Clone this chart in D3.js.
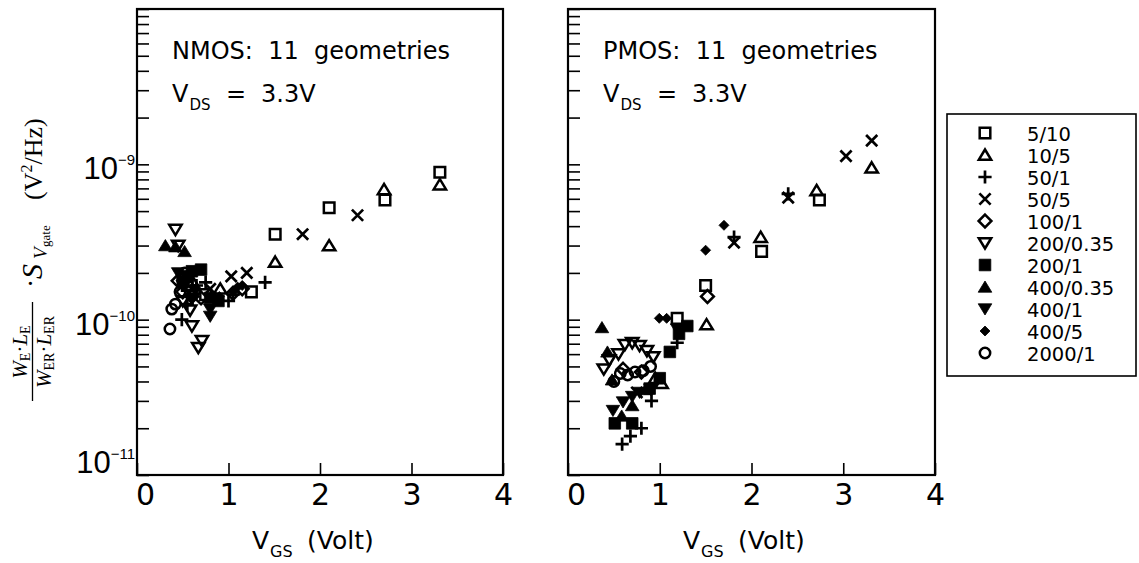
<!DOCTYPE html>
<html><head><meta charset="utf-8">
<script src="https://cdn.jsdelivr.net/npm/d3@7"></script>
<style>
html,body{margin:0;padding:0;background:#fff;}
svg{display:block;}
</style></head>
<body>
<svg id="chart" width="1139" height="563"></svg>
<script>
// ---------------- data ----------------
const geometries = ["5/10","10/5","50/1","50/5","100/1","200/0.35","200/1","400/0.35","400/1","400/5","2000/1"];
const markerTypes = ["square","triangle","plus","cross","diamond","invtri","square","triangle","invtri","diamond","circle"];
const markerFilled = [false,false,false,false,false,false,true,true,true,true,false];
const xTicks = [0,1,2,3,4];
const yLabelTicks = [1e-9,1e-10,1e-11];
const yLabelExp = ["\u22129","\u221210","\u221211"];

// NMOS: [VGS (V), normalised S_Vgate (V^2/Hz)]
const n_5_10   = [[0.55,1.66e-10],[0.75,1.45e-10],[1.25,1.51e-10],[1.51,3.55e-10],[2.10,5.25e-10],[2.71,5.9e-10],[3.31,8.9e-10]];
const n_10_5   = [[0.60,1.78e-10],[0.91,1.58e-10],[1.51,2.35e-10],[2.10,3.0e-10],[2.70,6.9e-10],[3.31,7.4e-10]];
const n_50_1   = [[0.49,1.0e-10],[0.55,1.26e-10],[0.65,1.66e-10],[0.75,1.74e-10],[1.0,1.32e-10],[1.05,1.45e-10],[1.40,1.74e-10]];
const n_50_5   = [[0.60,1.58e-10],[0.80,1.58e-10],[1.03,1.9e-10],[1.20,2.0e-10],[1.81,3.55e-10],[2.41,4.7e-10]];
const n_100_1  = [[0.45,1.78e-10],[0.50,1.51e-10],[0.60,1.41e-10],[0.70,1.38e-10],[1.05,1.48e-10],[1.15,1.58e-10]];
const n_200_035= [[0.42,3.8e-10],[0.45,3.0e-10],[0.50,1.32e-10],[0.58,1.15e-10],[0.60,9.1e-11],[0.71,7.3e-11],[0.67,6.6e-11]];
const n_200_1  = [[0.50,1.74e-10],[0.55,1.9e-10],[0.60,2.05e-10],[0.70,2.1e-10],[0.80,1.38e-10],[0.89,1.32e-10]];
const n_400_035= [[0.31,3.0e-10],[0.42,2.95e-10],[0.52,2.75e-10]];
const n_400_1  = [[0.45,2.0e-10],[0.50,1.66e-10],[0.60,1.38e-10],[0.80,1.17e-10],[0.80,1.05e-10]];
const n_400_5  = [[0.55,1.78e-10],[0.65,1.58e-10],[0.90,1.41e-10],[1.05,1.51e-10],[1.10,1.62e-10],[1.15,1.66e-10]];
const n_2000_1 = [[0.36,8.7e-11],[0.38,1.17e-10],[0.42,1.26e-10],[0.47,1.51e-10],[0.50,1.82e-10],[0.52,2.0e-10],[0.55,1.66e-10]];

// PMOS
const p_5_10   = [[1.19,1.02e-10],[1.50,1.66e-10],[2.11,2.75e-10],[2.74,5.9e-10]];
const p_10_5   = [[0.95,4.2e-11],[1.02,3.9e-11],[1.51,9.3e-11],[2.10,3.4e-10],[2.71,6.8e-10],[3.31,9.5e-10]];
const p_50_1   = [[0.59,1.58e-11],[0.68,1.78e-11],[0.80,2.0e-11],[0.91,3.0e-11],[1.19,7.1e-11],[1.81,3.4e-10],[2.40,6.45e-10]];
const p_50_5   = [[0.75,3.4e-11],[1.81,3.13e-10],[2.40,6.1e-10],[3.03,1.13e-9],[3.31,1.42e-9]];
const p_100_1  = [[0.60,4.8e-11],[0.80,4.6e-11],[1.52,1.41e-10]];
const p_200_035= [[0.39,4.8e-11],[0.45,5.5e-11],[0.55,6.0e-11],[0.62,6.9e-11],[0.70,7.1e-11],[0.78,6.8e-11],[0.86,6.3e-11],[0.93,5.75e-11]];
const p_200_1  = [[0.51,2.15e-11],[0.70,2.15e-11],[0.89,3.6e-11],[1.0,4.2e-11],[1.11,6.2e-11],[1.21,8.1e-11],[1.30,9.1e-11]];
const p_400_035= [[0.37,8.9e-11],[0.43,6.2e-11],[0.48,4.1e-11],[0.585,2.4e-11],[0.70,2.8e-11],[0.85,3.55e-11]];
const p_400_1  = [[0.49,2.6e-11],[0.60,2.95e-11],[0.70,3.2e-11],[0.78,3.4e-11],[0.90,3.55e-11],[1.19,8.7e-11]];
const p_400_5  = [[0.995,1.02e-10],[1.075,1.02e-10],[1.50,2.8e-10],[1.70,4.05e-10]];
const p_2000_1 = [[0.50,4.0e-11],[0.57,4.5e-11],[0.65,4.4e-11],[0.73,4.6e-11],[0.82,4.7e-11],[0.90,5.0e-11]];

const nmosSeries = [n_5_10,n_10_5,n_50_1,n_50_5,n_100_1,n_200_035,n_200_1,n_400_035,n_400_1,n_400_5,n_2000_1];
const pmosSeries = [p_5_10,p_10_5,p_50_1,p_50_5,p_100_1,p_200_035,p_200_1,p_400_035,p_400_1,p_400_5,p_2000_1];

// ---------------- drawing ----------------
const svg = d3.select("#chart");
const FONT = "'DejaVu Sans', sans-serif";
const NUMFONT = "'Liberation Sans', Arial, sans-serif";
const SERIF = "'Liberation Serif', 'Times New Roman', serif";
const plotTop = 9, plotBottom = 475;
const yScale = d3.scaleLog().domain([1e-11,1e-8]).range([plotBottom, plotTop]);

function markerPath(type, i){
  switch(type){
    case "square": { const s = markerFilled[i] ? 5.8 : 5.3; return `M${-s},${-s}H${s}V${s}H${-s}Z`; }
    case "triangle": return markerFilled[i] ? `M0,-6L6.8,5.2L-6.8,5.2Z` : `M0,-5.5L6.2,4.8L-6.2,4.8Z`;
    case "invtri": return markerFilled[i] ? `M0,6L6.8,-5.2L-6.8,-5.2Z` : `M0,5.5L6.2,-4.8L-6.2,-4.8Z`;
    case "plus": return `M-6.6,0H6.6M0,-6.6V6.6`;
    case "cross": return `M-5.6,-5.6L5.6,5.6M-5.6,5.6L5.6,-5.6`;
    case "diamond": { const r = markerFilled[i] ? 5 : 6.4; return `M0,${-r}L${r},0L0,${r}L${-r},0Z`; }
    case "circle": { const r = 5.2; return `M${r},0A${r},${r} 0 1,1 ${-r},0A${r},${r} 0 1,1 ${r},0Z`; }
  }
}
function styleMarker(sel, i){
  const filled = markerFilled[i];
  const t = markerTypes[i];
  sel.attr("d", markerPath(t,i))
     .attr("fill", filled ? "#000" : "none")
     .attr("stroke", "#000")
     .attr("stroke-width", (t==="plus"||t==="cross") ? 2.7 : (filled ? 0.8 : 2.5))
     .attr("stroke-linejoin","miter");
}

function drawPanel(x0, x1, seriesList, title, showYLabels){
  const xScale = d3.scaleLinear().domain([0,4]).range([x0, x1]);
  const g = svg.append("g");

  const yTickVals = [];
  for (let e=-11; e<-8; e++) for (let m=1; m<10; m++) yTickVals.push(m*Math.pow(10,e));
  yTickVals.push(1e-8);
  const yAxis = d3.axisLeft(yScale).tickValues(yTickVals).tickSize(-12).tickFormat("");
  const ya = g.append("g").attr("transform",`translate(${x0},0)`).call(yAxis);
  ya.select(".domain").remove();
  ya.selectAll(".tick line").attr("stroke","#000").attr("stroke-width",1.6);

  const xAxis = d3.axisBottom(xScale).tickValues(xTicks).tickSize(-12).tickPadding(9)
      .tickFormat(d3.format("d"));
  const xa = g.append("g").attr("transform",`translate(0,${plotBottom})`).call(xAxis);
  xa.select(".domain").remove();
  xa.selectAll(".tick line").attr("stroke","#000").attr("stroke-width",1.6);
  xa.selectAll(".tick text").attr("font-family",FONT).attr("font-size",30).attr("fill","#000")
    .attr("dx", d => d === 0 ? 8 : 0);

  g.append("rect").attr("x",x0).attr("y",plotTop).attr("width",x1-x0).attr("height",plotBottom-plotTop)
    .attr("fill","none").attr("stroke","#000").attr("stroke-width",2.2);

  if (showYLabels){
    yLabelTicks.forEach((v,k)=>{
      const base = (v === 1e-11) ? plotBottom - 2 : yScale(v) + 15;
      const t = g.append("text").attr("x",x0-2).attr("y",base)
        .attr("text-anchor","end").attr("font-family",NUMFONT).attr("fill","#000");
      t.append("tspan").attr("font-size",31).text("10");
      t.append("tspan").attr("font-size",15).attr("dy",-14).text(yLabelExp[k]);
    });
  }

  g.append("text").attr("x",x0+35).attr("y",59).attr("font-family",FONT).attr("font-size",24)
    .attr("fill","#000").attr("xml:space","preserve").text(title + ":  11  geometries");
  const vt = g.append("text").attr("x",x0+35).attr("y",102).attr("font-family",FONT).attr("font-size",24).attr("fill","#000");
  vt.append("tspan").text("V");
  vt.append("tspan").attr("font-size",15).attr("dy",8).attr("dx",1).text("DS");
  g.append("text").attr("x",x0+89).attr("y",102).attr("font-family",FONT).attr("font-size",24).attr("fill","#000").text("=");
  g.append("text").attr("x",x0+124).attr("y",102).attr("font-family",FONT).attr("font-size",24).attr("fill","#000").text("3.3V");

  const at = g.append("text").attr("x",x0+115).attr("y",549).attr("font-family",FONT).attr("font-size",25).attr("fill","#000");
  at.append("tspan").text("V");
  at.append("tspan").attr("font-size",16).attr("dy",8).attr("dx",1).text("GS");
  g.append("text").attr("x",x0+170).attr("y",549).attr("font-family",FONT).attr("font-size",25).attr("fill","#000").text("(Volt)");

  seriesList.forEach((data,i)=>{
    g.append("g").selectAll("path").data(data).join("path")
      .attr("transform",d=>`translate(${xScale(d[0])},${yScale(d[1])})`)
      .call(styleMarker, i);
  });
}

drawPanel(137, 503, nmosSeries, "NMOS", true);
drawPanel(568, 935, pmosSeries, "PMOS", false);

// legend
const lg = svg.append("g");
lg.append("rect").attr("x",947).attr("y",114).attr("width",189).attr("height",262)
  .attr("fill","#fff").attr("stroke","#000").attr("stroke-width",1.6);
geometries.forEach((name,i)=>{
  const yy = 133 + i*22;
  lg.append("path").attr("transform",`translate(985,${yy})`).call(styleMarker,i);
  lg.append("text").attr("x",1027).attr("y",yy+7.5).attr("font-family",FONT).attr("font-size",19.5)
    .attr("fill","#000").text(name);
});

// y-axis label (rotated)
const yl = svg.append("g").attr("transform","rotate(-90)");
function yt(lx, ly, size, italic, txt, anchor){
  return yl.append("text").attr("x",lx).attr("y",ly).attr("font-family",SERIF).attr("font-size",size)
    .attr("font-style",italic?"italic":"normal").attr("text-anchor",anchor||"start").attr("fill","#000").text(txt);
}
yl.append("line").attr("x1",-401).attr("x2",-302).attr("y1",32.5).attr("y2",32.5).attr("stroke","#000").attr("stroke-width",1.3);
const num = yl.append("text").attr("x",-352).attr("y",27).attr("text-anchor","middle").attr("font-family",SERIF).attr("font-size",21).attr("fill","#000");
num.append("tspan").attr("font-style","italic").text("W");
num.append("tspan").attr("font-size",14).attr("dy",3).text("E");
num.append("tspan").attr("dy",-3).text("\u00B7");
num.append("tspan").attr("font-style","italic").text("L");
num.append("tspan").attr("font-size",14).attr("dy",3).text("E");
const den = yl.append("text").attr("x",-352).attr("y",51).attr("text-anchor","middle").attr("font-family",SERIF).attr("font-size",21).attr("fill","#000");
den.append("tspan").attr("font-style","italic").text("W");
den.append("tspan").attr("font-size",14).attr("dy",3).text("ER");
den.append("tspan").attr("dy",-3).text("\u00B7");
den.append("tspan").attr("font-style","italic").text("L");
den.append("tspan").attr("font-size",14).attr("dy",3).text("ER");
yt(-288, 40, 28, false, "\u00B7");
yt(-279, 42, 30, true, "S");
yt(-259, 47, 19, true, "V");
yt(-247, 50, 13, false, "gate");
const un = yl.append("text").attr("x",-200).attr("y",42).attr("font-family",SERIF).attr("font-size",26).attr("fill","#000");
un.append("tspan").text("(V");
un.append("tspan").attr("font-size",16).attr("dy",-10).text("2");
un.append("tspan").attr("dy",10).text("/Hz)");
</script>
</body></html>
